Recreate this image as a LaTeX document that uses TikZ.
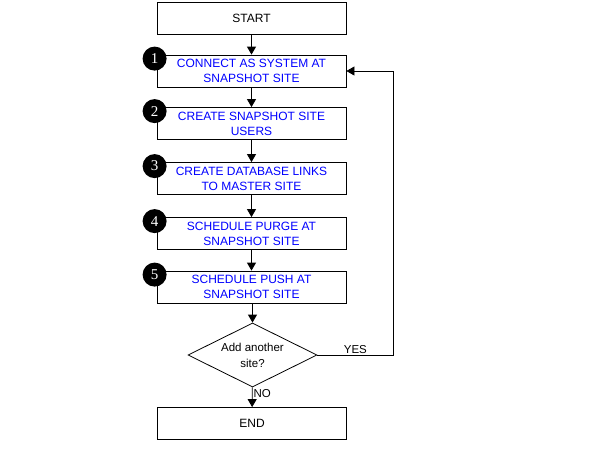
\documentclass[tikz,border=0pt]{standalone}
\usepackage{fontspec}
\setmainfont{Liberation Sans}
\newfontfamily\numfont{Liberation Serif}
\usetikzlibrary{arrows.meta,shapes.geometric,positioning}
\tikzset{
  stepbox/.style={draw, line width=0.8pt, minimum width=189pt, minimum height=32pt, inner sep=0pt, align=center, font=\fontsize{12}{15}\selectfont},
  bluebox/.style={stepbox, text=blue},
  decision/.style={draw, diamond, aspect=2, line width=0.8pt, minimum width=129pt, minimum height=64pt, inner sep=0pt, align=center, font=\fontsize{11.5}{16}\selectfont},
  badge/.style={circle, fill=black, minimum size=24pt, inner sep=0pt, text=white, font=\numfont\fontsize{15}{15}\selectfont},
  flow/.style={-{Triangle[width=9pt,length=8pt]}, line width=0.8pt},
  answer/.style={font=\fontsize{11.5}{13}\selectfont, inner sep=1pt}
}
\begin{document}
\begin{tikzpicture}[x=1pt, y=-1pt]
  \useasboundingbox (0,0) rectangle (592,459);
  % steps
  \node[stepbox] (start) at (251.5,18) {START};
  \node[bluebox] (connect) at (251.5,71) {CONNECT AS SYSTEM AT\\SNAPSHOT SITE};
  \node[bluebox] (users) at (251.5,123.5) {CREATE SNAPSHOT SITE\\USERS};
  \node[bluebox] (links) at (251.5,178.5) {CREATE DATABASE LINKS\\TO MASTER SITE};
  \node[bluebox] (purge) at (251.5,233.5) {SCHEDULE PURGE AT\\SNAPSHOT SITE};
  \node[bluebox] (push) at (251.5,287) {SCHEDULE PUSH AT\\SNAPSHOT SITE};
  \node[decision] (another) at (252.5,355) {Add another\\site?};
  \node[stepbox] (finish) at (252,423.5) {END};
  % numbered badges
  \foreach \s/\n in {connect/1, users/2, links/3, purge/4, push/5}
    \node[badge] (n\n) at ([shift={(-2,4)}]\s.north west) {\n};
  % arrows
  \draw[flow] (start) -- (connect);
  \draw[flow] (connect) -- (users);
  \draw[flow] (users) -- (links);
  \draw[flow] (links) -- (purge);
  \draw[flow] (purge) -- (push);
  \draw[flow] (push.south -| another.north) -- (another.north);
  \draw[flow] (another) -- node[answer, right, pos=0.3] {NO} (finish);
  \draw[flow] (another.east) -- node[answer, above, pos=0.5] {YES} ++(76,0) |- (connect.east);
\end{tikzpicture}
\end{document}
